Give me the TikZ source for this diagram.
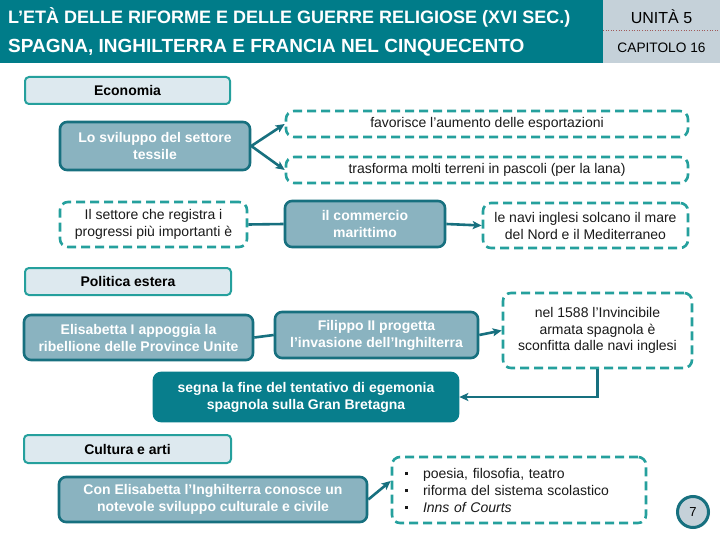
\documentclass[tikz,border=0pt]{standalone}
\usepackage{fontspec}
\setmainfont{Liberation Sans}
\usetikzlibrary{arrows.meta}
\definecolor{headteal}{HTML}{007C89}
\definecolor{headgrey}{HTML}{C5D1D9}
\definecolor{dashteal}{HTML}{25A09D}
\definecolor{darkedge}{HTML}{17707F}
\definecolor{midfill}{HTML}{8AB3C0}
\definecolor{lightfill}{HTML}{DDE9EF}
\definecolor{darkfill}{HTML}{087E8C}
\definecolor{dotred}{HTML}{A05A5A}
\definecolor{bodytext}{HTML}{1A1A1A}
\tikzset{
  bodyfont/.style={font=\fontsize{14}{17}\selectfont},
  sectbox/.style={draw=dashteal, line width=2pt, fill=lightfill, rounded corners=4pt,
    inner sep=0pt, font=\bfseries\fontsize{14}{15}\selectfont, text=black},
  mainbox/.style={draw=darkedge, line width=2.6pt, fill=midfill, rounded corners=7pt,
    inner sep=0pt, align=center, text=white, font=\bfseries\fontsize{14}{17}\selectfont},
  darkbox/.style={mainbox, fill=darkfill, draw=darkfill},
  dashbox/.style={draw=dashteal, line width=2.6pt, dash pattern=on 9pt off 5pt,
    rounded corners=8pt, inner sep=0pt, align=center, text=bodytext, bodyfont},
  conn/.style={draw=darkedge, line width=2.6pt},
  arr/.style={conn, -{Stealth[length=9pt,width=8pt,inset=2pt]}},
}
\begin{document}
\begin{tikzpicture}[x=1pt,y=-1pt]
\useasboundingbox (0,0) rectangle (720,540);
\fill[white] (0,0) rectangle (720,540);
% header
\fill[headteal] (0,0) rectangle (603,63);
\fill[headgrey] (603,0) rectangle (720,63);
\draw[dotred, line width=0.6pt, dotted] (603,30.5) -- (720,30.5);
\node[anchor=west, text=white, inner sep=0pt, font=\bfseries\fontsize{18}{20}\selectfont] (t1) at (8,17.5) {L’ETÀ DELLE RIFORME E DELLE GUERRE RELIGIOSE (XVI SEC.)};
\node[anchor=west, text=white, inner sep=0pt, font=\bfseries\fontsize{19}{21}\selectfont] (t2) at (8,48) {SPAGNA, INGHILTERRA E FRANCIA NEL CINQUECENTO};
\node[text=black, inner sep=0pt, font=\fontsize{16}{18}\selectfont] (unit) at (661.5,17) {UNITÀ 5};
\node[text=black, inner sep=0pt, font=\fontsize{13.7}{15}\selectfont] (cap) at (661.5,47.5) {CAPITOLO 16};
% Economia
\node[sectbox, minimum width=205pt, minimum height=27pt] (eco) at (127.5,90.5) {Economia};
\node[mainbox, minimum width=190pt, minimum height=48pt] (tess) at (155,146) {Lo sviluppo del settore\\tessile};
\node[dashbox, minimum width=402pt, minimum height=26pt] (fav) at (487,124) {favorisce l'aumento delle esportazioni};
\node[dashbox, minimum width=402pt, minimum height=26pt] (tras) at (487,170) {trasforma molti terreni in pascoli (per la lana)};
\node[dashbox, minimum width=187pt, minimum height=45pt] (sett) at (153.5,224.5) {Il settore che registra i\\progressi più importanti è};
\node[mainbox, minimum width=160pt, minimum height=46pt] (comm) at (365,224) {il commercio\\marittimo};
\node[dashbox, minimum width=205pt, minimum height=45pt] (navi) at (585.5,225.5) {le navi inglesi solcano il mare\\del Nord e il Mediterraneo};
\draw[arr] (tess.east) -- (fav.west);
\draw[arr] (tess.east) -- (tras.west);
\draw[conn] (sett.east) -- (comm.west);
\draw[arr] (comm.east) -- (navi.west);
% Politica estera
\node[sectbox, minimum width=206pt, minimum height=27pt] (pol) at (128,281.5) {Politica estera};
\node[mainbox, minimum width=229pt, minimum height=45pt] (elis) at (138.5,337.5) {Elisabetta I appoggia la\\ribellione delle Province Unite};
\node[mainbox, minimum width=203pt, minimum height=46pt] (fil) at (376.5,335) {Filippo II progetta\\l’invasione dell’Inghilterra};
\node[dashbox, minimum width=189pt, minimum height=75pt, font=\fontsize{14}{16.5}\selectfont] (inv) at (597.5,330.5) {nel 1588 l’Invincibile\\armata spagnola è\\sconfitta dalle navi inglesi};
\node[darkbox, minimum width=304pt, minimum height=48pt] (segna) at (306,397) {segna la fine del tentativo di egemonia\\spagnola sulla Gran Bretagna};
\draw[conn] (elis.east) -- (fil.west);
\draw[arr] (fil.east) -- (inv.west);
\draw[arr] (inv.south) |- (segna.east);
% Cultura e arti
\node[sectbox, minimum width=207pt, minimum height=28pt] (cult) at (127.5,449) {Cultura e arti};
\node[mainbox, minimum width=308pt, minimum height=45pt] (con) at (213,499.5) {Con Elisabetta l’Inghilterra conosce un\\notevole sviluppo culturale e civile};
\node[dashbox, minimum width=254pt, minimum height=66pt, text width=228pt, inner xsep=13pt, align=left] (list) at (519,490)
  {\raisebox{2.8pt}{\rule{3pt}{3pt}}\hspace{15pt}poesia, filosofia, teatro\\
   \raisebox{2.8pt}{\rule{3pt}{3pt}}\hspace{15pt}riforma del sistema scolastico\\
   \raisebox{2.8pt}{\rule{3pt}{3pt}}\hspace{15pt}\textit{Inns of Courts}};
\draw[arr] (con.east) -- ([yshift=9pt]list.west);
% page number
\node[circle, draw=darkedge, line width=3pt, fill=headgrey, minimum size=31pt, inner sep=0pt, font=\fontsize{13}{15}\selectfont] (seven) at (693,512) {7};
\end{tikzpicture}
\end{document}
